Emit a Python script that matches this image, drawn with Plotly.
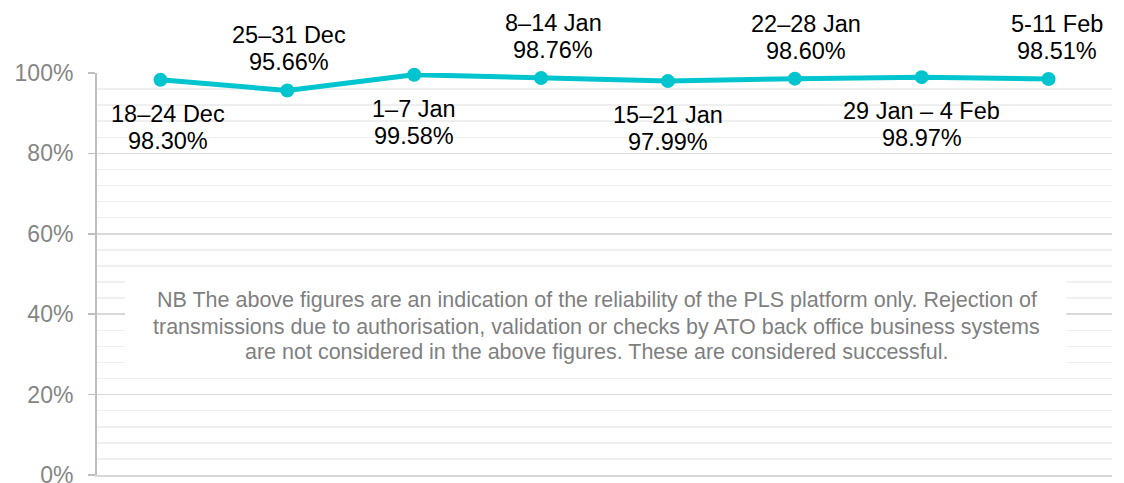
import plotly.graph_objects as go

weeks = ["18–24 Dec", "25–31 Dec", "1–7 Jan", "8–14 Jan", "15–21 Jan",
         "22–28 Jan", "29 Jan – 4 Feb", "5-11 Feb"]
success_pct = [98.30, 95.66, 99.58, 98.76, 97.99, 98.60, 98.97, 98.51]
label_pos = ["below", "above", "below", "above", "below", "above", "below", "above"]
y_ticks = [0, 20, 40, 60, 80, 100]
y_tick_text = ["0%", "20%", "40%", "60%", "80%", "100%"]
note_lines = [
    "NB The above figures are an indication of the reliability of the PLS platform only. Rejection of",
    "transmissions due to authorisation, validation or checks by ATO back office business systems",
    "are not considered in the above figures. These are considered successful.",
]

# styling / placement constants (not data)
LABEL_DX = [8, 2, 0, 12, 0, 11, 0, 8]
NOTE_LINE_Y = [43.5, 36.8, 30.6]
NOTE_BOX_Y = [25.6, 51.0]
FONT = "Liberation Sans, Arial, sans-serif"
TEAL = "#00c5cf"

fig = go.Figure()
fig.add_trace(go.Scatter(
    x=weeks, y=success_pct, mode="lines+markers",
    line=dict(color=TEAL, width=5),
    marker=dict(color=TEAL, size=14),
    cliponaxis=False, hoverinfo="skip", showlegend=False,
))

annotations = []
for w, v, pos, dx in zip(weeks, success_pct, label_pos, LABEL_DX):
    if pos == "below":
        name_shift, val_shift = -34, -61
    else:
        name_shift, val_shift = 55, 28
    for txt, sh in ((w, name_shift), (f"{v:.2f}%", val_shift)):
        annotations.append(dict(
            x=w, y=v, xref="x", yref="y", text=txt, showarrow=False,
            font=dict(family=FONT, size=23.5, color="#000000"),
            xanchor="center", yanchor="middle", yshift=sh, xshift=dx,
        ))
for line, ly in zip(note_lines, NOTE_LINE_Y):
    annotations.append(dict(
        x=0.4926, y=ly, xref="paper", yref="y", text=line, showarrow=False,
        font=dict(family=FONT, size=21.5, color="#7f7f7f"),
        xanchor="center", yanchor="middle",
    ))

fig.add_shape(type="rect", xref="paper", yref="y",
              x0=0.0276, x1=0.955, y0=NOTE_BOX_Y[0], y1=NOTE_BOX_Y[1],
              fillcolor="#ffffff", line=dict(width=0), layer="above")

fig.update_layout(
    width=1124, height=483,
    margin=dict(l=97, r=12, t=73, b=8),
    paper_bgcolor="#ffffff", plot_bgcolor="#ffffff",
    font=dict(family=FONT),
    annotations=annotations,
    xaxis=dict(
        type="category", range=[-0.5, 7.5], showticklabels=False,
        showgrid=False, zeroline=False, showline=True,
        linecolor="#d9d9d9", linewidth=2, ticks="", automargin=False,
    ),
    yaxis=dict(
        range=[0, 100], tickvals=y_ticks, ticktext=y_tick_text,
        tickfont=dict(family=FONT, size=23, color="#858585"),
        showgrid=True, gridcolor="#d9d9d9", gridwidth=1.5,
        minor=dict(dtick=4, tick0=0, showgrid=True, gridcolor="#efefef", gridwidth=1.5),
        zeroline=False, showline=True, linecolor="#bfbfbf", linewidth=2,
        ticks="outside", ticklen=7, tickcolor="#bfbfbf", tickwidth=1.5,
        ticklabelstandoff=10, ticklabeloverflow="allow", automargin=False,
    ),
)

fig.write_html("out.html", config={"displayModeBar": False, "staticPlot": True},
               post_script="document.body.style.margin='0';document.body.style.padding='0';")
